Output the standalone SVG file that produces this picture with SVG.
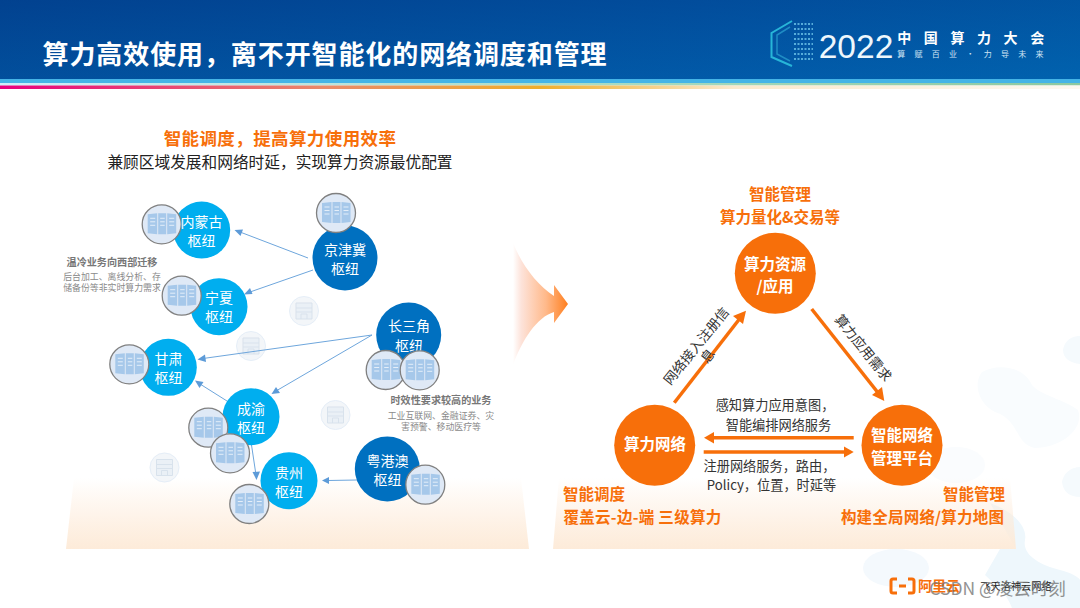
<svg xmlns="http://www.w3.org/2000/svg" width="1080" height="608" viewBox="0 0 1080 608">
<style>
text{font-family:"Noto Sans CJK SC","Noto Sans",sans-serif;text-anchor:middle}
.n{font-size:14px;fill:#fff}
.o{font-size:15.500px;font-weight:700;fill:#f76f0a}
.b{font-size:15.500px;font-weight:700;fill:#fff}
.k{font-size:13.200px;fill:#333}
.r{font-size:13.500px;fill:#333}
.h{font-size:10.100px;font-weight:700;fill:#777}
.s{font-size:8.900px;fill:#8a8a8a}
.lc{fill:#00aeef}.dc{fill:#0070c0}
.ln{stroke:#6ea6dc;stroke-width:1;fill:none}
.ar{stroke:#f76f0a;stroke-width:3.500;fill:none}
.oc{fill:#f76f0a}
</style>
<defs>
<linearGradient id="hd" x1="0" y1="0" x2="0" y2="1"><stop offset="0" stop-color="#02418f"/><stop offset="1" stop-color="#015ca8"/></linearGradient>
<linearGradient id="hr" x1="0" y1="0" x2="1" y2="0"><stop offset="0" stop-color="#024290"/><stop offset=".65" stop-color="#0258a8"/><stop offset="1" stop-color="#0168b4"/></linearGradient>
<linearGradient id="st" x1="0" y1="0" x2="1" y2="0"><stop offset="0" stop-color="#e6007e"/><stop offset=".3" stop-color="#e98a68"/><stop offset=".5" stop-color="#efae2c"/><stop offset=".68" stop-color="#fbe9cc"/><stop offset="1" stop-color="#fdf8f0"/></linearGradient>
<linearGradient id="gr" x1="0" y1="0" x2="1" y2="0"><stop offset="0" stop-color="#cfeefa"/><stop offset=".55" stop-color="#a9dcc4"/><stop offset="1" stop-color="#8cc8a0"/></linearGradient>
<linearGradient id="tr" x1="0" y1="0" x2="0" y2="1"><stop offset="0" stop-color="#fde8d4" stop-opacity="0"/><stop offset="1" stop-color="#fdebd9"/></linearGradient>
<linearGradient id="sw" x1="513" y1="0" x2="568" y2="0" gradientUnits="userSpaceOnUse"><stop offset="0" stop-color="#fff"/><stop offset=".15" stop-color="#fde3da"/><stop offset=".6" stop-color="#ffb98a"/><stop offset="1" stop-color="#ff7f1e"/></linearGradient>
<g id="srv"><circle r="19.500" fill="#dfe9f6" stroke="#808080" stroke-width="1.300"/>
<path d="M-14-10 -4.500-11V10L-14 9ZM-3.500-11H4.500V10H-3.500ZM5.500-11 14.500-10V9L5.500 10Z" fill="#a6c8ea"/>
<path d="M-11.500-6H-6.500M-11.500-2.500H-6.500M-11.500 1H-6.500M-1.500-6H3M-1.500-2.500H3M-1.500 1H3M7.500-6H12.500M7.500-2.500H12.500M7.500 1H12.500" stroke="#e4eef9" stroke-width="1" fill="none"/></g>
<g id="fnt" opacity=".8"><circle r="14.500" fill="#f1f4f8" stroke="#dfeaf6" stroke-width="1"/>
<path d="M-8-8H8V8H-8ZM-8-3H8M-8 1H8M-3 8V3H3V8" fill="#e6edf5" stroke="#cfdbe8" stroke-width="1"/></g>
</defs>
<rect width="1080" height="608" fill="#fff"/>
<g id="bg-blobs">
<path d="M982 372C1000 362 1025 368 1032 385 1040 395 1065 400 1078 410 1085 430 1060 448 1035 448 1015 445 1020 420 995 412 980 405 972 385 982 372Z" fill="#f9fcfe"/>
<ellipse cx="956" cy="465" rx="29" ry="18" fill="#fafcfe"/>
<ellipse cx="896" cy="568" rx="33" ry="19" fill="#f4f9fd"/>
<path d="M1063 350C1065 338 1075 336 1080 336V364C1070 363 1063 358 1063 350Z" fill="#f5fafd"/>
<path d="M1062 482C1064 470 1075 467 1080 467V497C1070 497 1063 492 1062 482Z" fill="#f5fafd"/>
<path d="M990 503C1010 510 1028 525 1025 540 1022 555 1040 565 1060 570 1070 572 1080 578 1080 580V608H1012C1005 590 995 585 985 575L1000 549 1016 549Z" fill="#eef7fc"/>
</g>
<g id="header">
<rect width="1080" height="79" fill="url(#hr)"/>
<rect width="1080" height="79" fill="url(#hd)" opacity=".5"/>
<rect y="79" width="1080" height="4" fill="#45b4e6"/>
<rect y="83" width="1080" height="2.500" fill="url(#gr)"/>
<rect y="85.500" width="1080" height="3.500" fill="url(#st)"/>
<text x="325" y="64" style="font-size:26px;font-weight:700;fill:#fff;letter-spacing:.9px">算力高效使用，离不开智能化的网络调度和管理</text>
</g>
<g id="logo">
<path d="M792 21 771.500 33V57L792 66" fill="none" stroke="#27b5d8" stroke-width="2"/>
<path d="M790 27 777 35V54L790 61" fill="none" stroke="#1f8cc4" stroke-width="1.500"/>
<g fill="none" stroke="#6cc3e8" stroke-width="2" stroke-dasharray="2 1.500" opacity=".8">
<path d="M794 24H813M794 29H813M794 34H813M794 39H813M794 44H813M794 49H813M794 54H813M794 59H813"/>
</g>
<text x="856" y="58" style="font-size:33.500px;font-family:'Liberation Sans',sans-serif;fill:#eef7fc">2022</text>
<text x="977" y="43" style="font-size:14px;font-weight:700;fill:#fff;letter-spacing:12.600px">中国算力大会</text>
<text x="975" y="57" style="font-size:8px;fill:#cfe4f4;letter-spacing:9.300px">算赋百业·力导未来</text>
</g>
<g id="left-base"><path d="M74 478H521L529 549H66Z" fill="url(#tr)"/></g>
<g id="right-base"><path d="M559 478H1010L1016 549H553Z" fill="url(#tr)"/></g>
<g id="swoosh"><path d="M513 243C522 265 537 285 554 296V285L568 304 554 323V312C537 317 522 340 513 365Z" fill="url(#sw)"/></g>
<text x="280" y="145" style="font-size:17.500px;font-weight:700;fill:#f76f0a;letter-spacing:.4px">智能调度，提高算力使用效率</text>
<text x="280" y="168" style="font-size:15.700px;fill:#222">兼顾区域发展和网络时延，实现算力资源最优配置</text>
<g id="faint"><use href="#fnt" x="304" y="311"/><use href="#fnt" x="251" y="346"/><use href="#fnt" x="335.500" y="415"/><use href="#fnt" x="164.500" y="467.500"/></g>
<g id="connectors">
<g class="ln">
<path d="M308 258 240 232"/><path d="M313 270 250 292"/><path d="M372 335 203 358.500"/><path d="M372 335 276 391"/><path d="M227 401 200 384"/><path d="M251.500 445 256 475"/><path d="M357 480 328 480.500"/>
</g>
<g fill="#5d9bd8">
<path d="M234.500 230 243 229.500 240.500 236Z"/><path d="M244 294.500 250 288 252.500 294Z"/><path d="M197.500 359.500 205 354.500 206 362Z"/><path d="M271.500 394 276 387 280 393Z"/><path d="M195 380.500 203.500 382 199.500 388Z"/><path d="M256.500 480 252.500 472 260 471.500Z"/><path d="M322 480.500 329 477 329 484Z"/>
</g>
<g class="ar">
<path d="M674.300 402.700 741 317"/><path d="M811.700 309 879 394"/><path d="M853.700 437.700H712"/><path d="M703.700 452H845"/>
</g>
<g class="oc">
<path d="M746 310.700 743 324 733 316Z"/><path d="M884.300 401 872 395 882 387Z"/><path d="M704 437.700 714 432V443.500Z"/><path d="M853.700 452 844 446.500V457.500Z"/>
</g>
</g>
<g id="n-neimenggu"><circle class="lc" cx="201.700" cy="230" r="28.500"/><use href="#srv" x="161.700" y="224.300"/><text class="n" x="201.500" y="227">内蒙古</text><text class="n" x="201.500" y="246">枢纽</text></g>
<g id="n-ningxia"><circle class="lc" cx="219" cy="306.700" r="28.500"/><use href="#srv" x="181.700" y="295.700"/><text class="n" x="219" y="303">宁夏</text><text class="n" x="219" y="322">枢纽</text></g>
<g id="n-jingjinji"><circle class="dc" cx="345" cy="258" r="32.500"/><use href="#srv" x="336" y="213"/><text class="n" x="345" y="255">京津冀</text><text class="n" x="345" y="274">枢纽</text></g>
<g id="n-gansu"><circle class="lc" cx="168.300" cy="367.300" r="28.500"/><use href="#srv" x="129.300" y="364.300"/><text class="n" x="168.500" y="364">甘肃</text><text class="n" x="168.500" y="383">枢纽</text></g>
<g id="n-chengyu"><circle class="lc" cx="251" cy="416.700" r="28.500"/><use href="#srv" x="208.300" y="427.700"/><use href="#srv" x="230" y="453.300"/><text class="n" x="251" y="414">成渝</text><text class="n" x="251" y="433">枢纽</text></g>
<g id="n-guizhou"><circle class="lc" cx="289" cy="480.700" r="28.500"/><use href="#srv" x="249.300" y="504"/><text class="n" x="289" y="478">贵州</text><text class="n" x="289" y="497">枢纽</text></g>
<g id="n-changsanjiao"><circle class="dc" cx="408.700" cy="335" r="32.500"/><text class="n" x="409" y="331">长三角</text><text class="n" x="409" y="351">枢纽</text><use href="#srv" x="385.700" y="370"/><use href="#srv" x="419.700" y="370.300"/></g>
<g id="n-yuegangao"><circle class="dc" cx="387.300" cy="469" r="32.500"/><text class="n" x="387.500" y="466">粤港澳</text><text class="n" x="387.500" y="485">枢纽</text><use href="#srv" x="425.300" y="484.700"/></g>
<g id="notes">
<text class="h" x="112" y="266">温冷业务向西部迁移</text>
<text class="s" x="112" y="280">后台加工、离线分析、存</text>
<text class="s" x="112" y="291">储备份等非实时算力需求</text>
<text class="h" x="441" y="404">时效性要求较高的业务</text>
<text class="s" x="441" y="419">工业互联网、金融证券、灾</text>
<text class="s" x="441" y="430">害预警、移动医疗等</text>
</g>
<g id="n-resource"><circle class="oc" cx="775.300" cy="273.300" r="40.500"/><text class="b" x="775" y="270">算力资源</text><text class="b" x="775" y="292">/应用</text></g>
<g id="n-network"><circle class="oc" cx="654.700" cy="445.300" r="40.500"/><text class="b" x="655" y="450">算力网络</text></g>
<g id="n-platform"><circle class="oc" cx="902" cy="445.300" r="40.500"/><text class="b" x="902" y="441">智能网络</text><text class="b" x="902" y="464">管理平台</text></g>
<g id="labels">
<text class="o" x="780" y="200">智能管理</text>
<text class="o" x="780" y="223">算力量化&amp;交易等</text>
<text class="o" x="594" y="500">智能调度</text>
<text class="o" x="642.500" y="523" style="letter-spacing:.3px">覆盖云-边-端 三级算力</text>
<text class="o" x="974" y="500">智能管理</text>
<text class="o" x="922.500" y="523" style="letter-spacing:.2px">构建全局网络/算力地图</text>
<text class="k" x="775" y="410">感知算力应用意图，</text>
<text class="k" x="778.500" y="430">智能编排网络服务</text>
<text class="k" x="769.500" y="471">注册网络服务，路由，</text>
<text class="k" x="771.500" y="490">Policy，位置，时延等</text>
<text class="r" transform="translate(700 349) rotate(-51)">网络接入注册信</text>
<text class="r" transform="translate(711.500 359) rotate(-51)">息</text>
<text class="r" transform="translate(859.500 351) rotate(51)">算力应用需求</text>
</g>
<g id="footer">
<path d="M897 579H893Q891 579 891 581V591Q891 593 893 593H897M908 579H912Q914 579 914 581V591Q914 593 912 593H908M899 586H906" fill="none" stroke="#f76f0a" stroke-width="3"/>
<text x="939" y="591" style="font-size:14px;font-weight:700;fill:#f76f0a">阿里云</text>
<text x="1016" y="590" style="font-size:10.200px;fill:#222">飞天洛神云网络</text>
<text x="997.500" y="595" style="font-size:17.500px;fill:#777;opacity:.8">CSDN @凌云时刻</text>
</g>
</svg>
